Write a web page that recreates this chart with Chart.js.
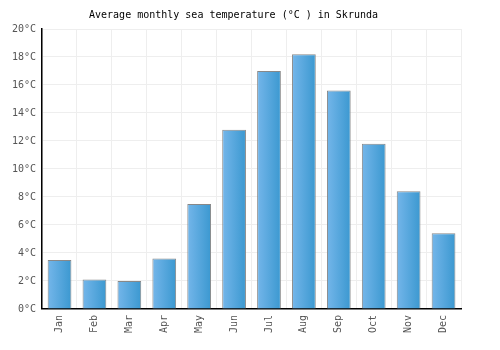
<!DOCTYPE html>
<html>
<head>
<meta charset="utf-8">
<script src="https://cdn.jsdelivr.net/npm/chart.js@4"></script>
<style>
  html, body { margin: 0; padding: 0; background: #fff; }
  #wrap { width: 500px; height: 350px; }
</style>
</head>
<body>
<div id="wrap"><canvas id="myChart" width="500" height="350"></canvas></div>
<script>
const months = ['Jan', 'Feb', 'Mar', 'Apr', 'May', 'Jun', 'Jul', 'Aug', 'Sep', 'Oct', 'Nov', 'Dec'];
const seaTemp = [3.5, 2.1, 2.0, 3.6, 7.5, 12.8, 17.0, 18.2, 15.6, 11.8, 8.4, 5.4];
const yTicks = [0, 2, 4, 6, 8, 10, 12, 14, 16, 18, 20];

const BAR_PCT = 0.68;
const FONT = 'DejaVu Sans Mono';

// horizontal gradient on each bar
function barGradient(context) {
  const chart = context.chart;
  if (!chart.chartArea) return '#5aa8e0';
  const xs = chart.scales.x;
  const cx = xs.getPixelForValue(context.dataIndex);
  const w = xs.width / months.length * BAR_PCT;
  const g = chart.ctx.createLinearGradient(cx - w / 2, 0, cx + w / 2, 0);
  g.addColorStop(0, '#74b6ea');
  g.addColorStop(1, '#3b98d0');
  return g;
}

const ctx = document.getElementById('myChart').getContext('2d');
const chart = new Chart(ctx, {
  type: 'bar',
  data: {
    labels: months,
    datasets: [{
      data: seaTemp,
      backgroundColor: barGradient,
      borderColor: '#888888',
      borderWidth: 1,
      borderSkipped: 'bottom',
      barPercentage: BAR_PCT,
      categoryPercentage: 1.0
    }]
  },
  options: {
    responsive: false,
    animation: false,
    layout: { padding: { left: 6, right: 39, top: 0, bottom: 11 } },
    plugins: {
      legend: { display: false },
      tooltip: { enabled: false },
      title: {
        display: true,
        text: 'Average monthly sea temperature (°C ) in Skrunda',
        color: '#000',
        font: { family: FONT, size: 10, weight: 'normal' },
        padding: { top: 9, bottom: 8 }
      }
    },
    scales: {
      x: {
        grid: { color: '#eeeeee', offset: true, drawTicks: false },
        border: { color: '#000', width: 1.5 },
        ticks: {
          color: '#555',
          font: { family: FONT, size: 10 },
          maxRotation: 90,
          minRotation: 90,
          padding: 6
        }
      },
      y: {
        min: 0,
        max: 20,
        afterBuildTicks: function (axis) {
          axis.ticks = yTicks.map(function (v) { return { value: v }; });
        },
        grid: { color: '#eeeeee', drawTicks: false },
        border: { color: '#000', width: 1.5 },
        ticks: {
          color: '#555',
          font: { family: FONT, size: 10 },
          padding: 6,
          callback: function (v) { return v + '°C'; }
        }
      }
    }
  }
});
</script>
</body>
</html>
